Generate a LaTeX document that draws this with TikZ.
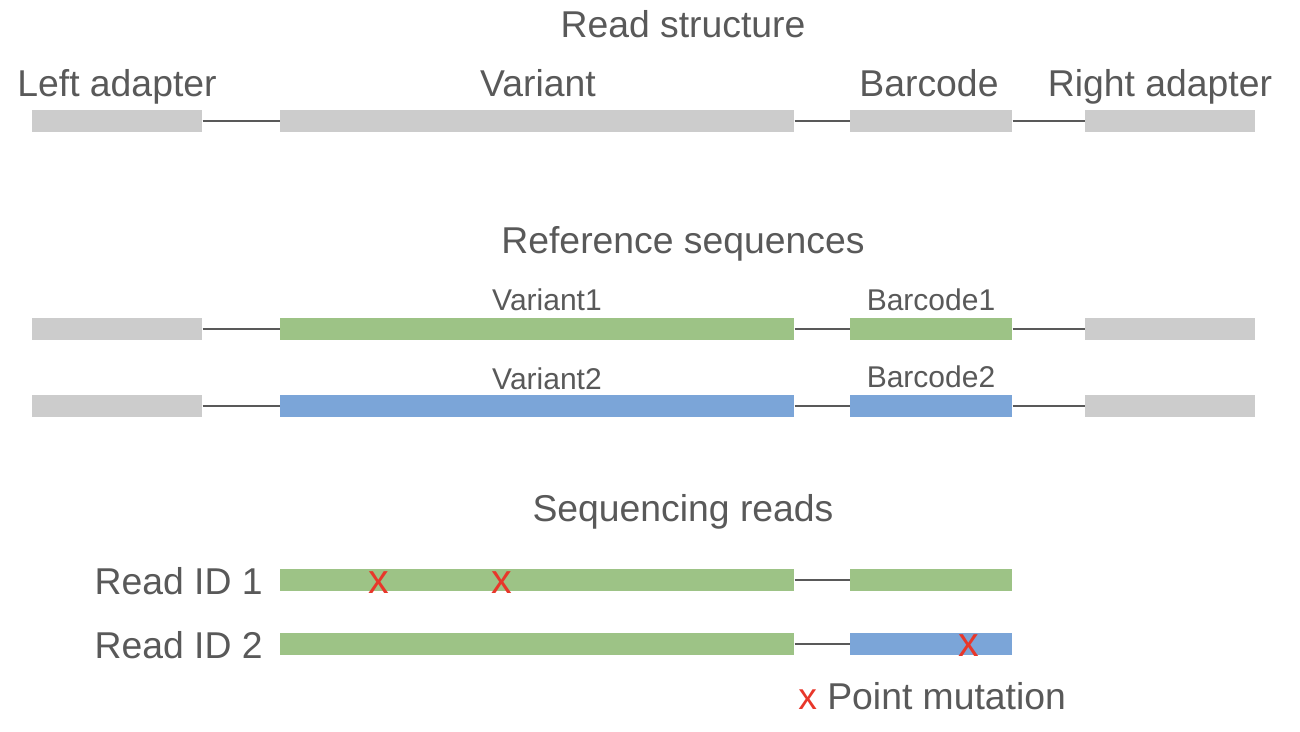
\documentclass[tikz,border=0pt]{standalone}
\usepackage{fontspec}
\setmainfont{Liberation Sans}
\definecolor{Ink}{HTML}{595959}
\definecolor{BarGrey}{HTML}{CCCCCC}
\definecolor{BarGreen}{HTML}{9DC386}
\definecolor{BarBlue}{HTML}{7BA5D8}
\definecolor{MutRed}{HTML}{E8372A}
\tikzset{
  seg/.style={inner sep=0pt,minimum height=16.5pt,anchor=west},
  adapter/.style={seg,fill=BarGrey,minimum width=127.5pt},
  variant/.style={seg,fill=#1,minimum width=385.5pt},
  barcode/.style={seg,fill=#1,minimum width=121.5pt},
  link/.style={Ink,line width=1.5pt},
  bigtext/.style={font=\fontsize{28}{34}\selectfont,inner sep=0pt,anchor=base},
  smalltext/.style={font=\fontsize{22.5}{27}\selectfont,inner sep=0pt,anchor=base},
  mut/.style={text=MutRed,font=\fontsize{31}{36}\selectfont,inner sep=0pt}
}
\begin{document}
\begin{tikzpicture}[x=0.75pt,y=-0.75pt,every node/.style={text=Ink}]
\useasboundingbox[fill=white] (0,0) rectangle (1300,732);
% read structure
\node[bigtext] (title1) at (683,37) {Read structure};
\node[bigtext] (tleft) at (117,96) {Left adapter};
\node[bigtext] (tvar) at (538,96) {Variant};
\node[bigtext] (tbar) at (929,96) {Barcode};
\node[bigtext] (tright) at (1160,96) {Right adapter};
\node[adapter] (la0) at (32,121) {};
\node[variant=BarGrey] (v0) at (280,121) {};
\node[barcode=BarGrey] (b0) at (850,121) {};
\node[adapter] (ra0) at (1085,121) {};
\draw[link] (la0.east)--(v0.west) (v0.east)--(b0.west) (b0.east)--(ra0.west);
% reference sequences
\node[bigtext] (title2) at (683,253) {Reference sequences};
\node[smalltext] (tv1) at (547,310) {Variant1};
\node[smalltext] (tb1) at (931,310) {Barcode1};
\node[adapter] (la1) at (32,329) {};
\node[variant=BarGreen] (v1) at (280,329) {};
\node[barcode=BarGreen] (b1) at (850,329) {};
\node[adapter] (ra1) at (1085,329) {};
\draw[link] (la1.east)--(v1.west) (v1.east)--(b1.west) (b1.east)--(ra1.west);
\node[smalltext] (tv2) at (547,389) {Variant2};
\node[smalltext] (tb2) at (931,387) {Barcode2};
\node[adapter] (la2) at (32,406) {};
\node[variant=BarBlue] (v2) at (280,406) {};
\node[barcode=BarBlue] (b2) at (850,406) {};
\node[adapter] (ra2) at (1085,406) {};
\draw[link] (la2.east)--(v2.west) (v2.east)--(b2.west) (b2.east)--(ra2.west);
% sequencing reads
\node[bigtext] (title3) at (683,521) {Sequencing reads};
\node[bigtext,anchor=base east] (id1) at (263,594) {Read ID 1};
\node[variant=BarGreen] (rv1) at (280,580) {};
\node[barcode=BarGreen] (rb1) at (850,580) {};
\draw[link] (rv1.east)--(rb1.west);
\node[mut] (m1) at (379,583) {x};
\node[mut] (m2) at (502,583) {x};
\node[bigtext,anchor=base east] (id2) at (263,658) {Read ID 2};
\node[variant=BarGreen] (rv2) at (280,644) {};
\node[barcode=BarBlue] (rb2) at (850,644) {};
\draw[link] (rv2.east)--(rb2.west);
\node[mut] (m3) at (969,646) {x};
\node[bigtext,anchor=base west] (legend) at (798,709) {\textcolor{MutRed}{x} Point mutation};
\end{tikzpicture}
\end{document}
